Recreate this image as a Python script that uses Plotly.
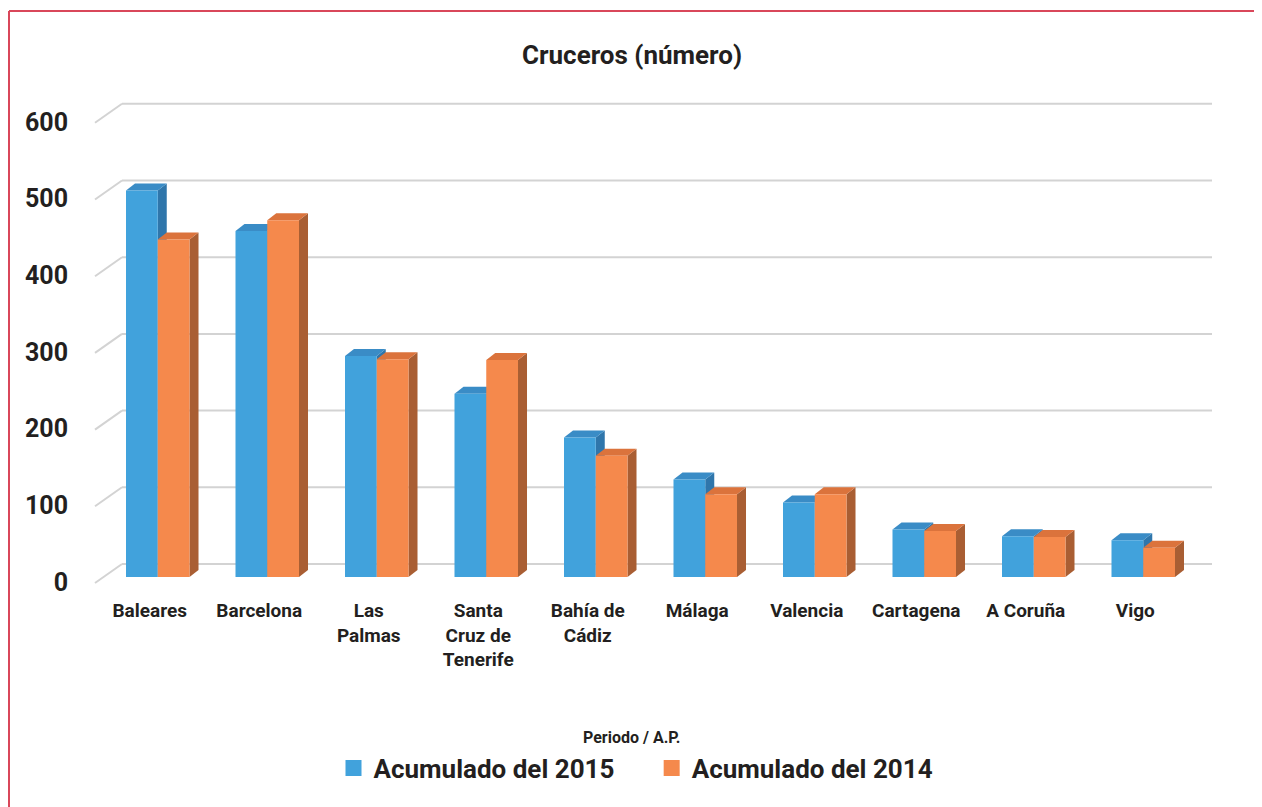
import plotly.graph_objects as go

# ---------------- data ----------------
categories = ["Baleares", "Barcelona", "Las<br>Palmas", "Santa<br>Cruz de<br>Tenerife",
              "Bahía de<br>Cádiz", "Málaga", "Valencia", "Cartagena", "A Coruña", "Vigo"]
acum_2015 = [504, 451, 288, 239, 182, 127, 97, 62, 53, 48]
acum_2014 = [440, 465, 284, 283, 158, 108, 108, 60, 52, 38]
series_names = ["Acumulado del 2015", "Acumulado del 2014"]
y_ticks = [0, 100, 200, 300, 400, 500, 600]

# ---------------- style / layout constants ----------------
OFF = 8                          # page body margin in the browser
W, H = 1262 - OFF, 807 - OFF
ML, MT = 103 - OFF, 95 - OFF
PW, PH = 1095, 482
MR, MB = W - ML - PW, H - MT - PH
PXU = 0.767                      # pixels per unit on y
YMAX = PH / PXU
XMIN, XMAX = -0.5, len(categories) - 0.5
PXX = PW / (XMAX - XMIN)         # pixels per category
BW = 0.29                        # bar width (category units)
DX_PX, DY_PX = 9, 7              # 3D depth offsets in pixels
dx = DX_PX / PXX
dy = DY_PX / PXU

FONT = "Roboto, 'Liberation Sans', Arial, sans-serif"
TXT = "#231F20"
BLUE = dict(front="#41A2DC", top="#3A8CC6", side="#2F76AB")
ORANGE = dict(front="#F5894C", top="#DB733C", side="#A95E33")
GRID = "#D3D3D3"
RED = "#D9475A"

x_idx = list(range(len(categories)))

fig = go.Figure()
fig.add_trace(go.Bar(x=x_idx, y=acum_2015, width=BW, offset=-BW, name=series_names[0],
                     marker=dict(color=BLUE["front"], line=dict(width=0)), showlegend=False))
fig.add_trace(go.Bar(x=x_idx, y=acum_2014, width=BW, offset=0, name=series_names[1],
                     marker=dict(color=ORANGE["front"], line=dict(width=0)), showlegend=False))
# legend-only entries (bigger square swatches)
pads = ["&nbsp;" * 5, ""]
for nm, col, pad in zip(series_names, [BLUE["front"], ORANGE["front"]], pads):
    fig.add_trace(go.Scatter(x=[None], y=[None], mode="markers", name=f"<b>{nm}</b>{pad}",
                             marker=dict(symbol="square", size=16, color=col, line=dict(width=0))))

shapes = []

def px2paper_x(ref_px):
    return (ref_px - OFF - ML) / PW

def py2paper_y(ref_py):
    return (MT + PH - (ref_py - OFF)) / PH

def val2paper_y(v, off_px=0.0):
    return (v * PXU + off_px) / PH

# back-wall gridlines with diagonal floor stubs
FRONT_PX, BACK_PX, END_PX = 95, 122, 1212
for t in y_ticks:
    yf = val2paper_y(t, -6)
    yb = val2paper_y(t, 13)
    shapes.append(dict(type="line", xref="paper", yref="paper",
                       x0=px2paper_x(FRONT_PX), y0=yf, x1=px2paper_x(BACK_PX), y1=yb,
                       line=dict(color=GRID, width=2), layer="below"))
    shapes.append(dict(type="line", xref="paper", yref="paper",
                       x0=px2paper_x(BACK_PX), y0=yb, x1=px2paper_x(END_PX), y1=yb,
                       line=dict(color=GRID, width=2), layer="below"))

def poly(pts):
    return "M " + " L ".join(f"{a},{b}" for a, b in pts) + " Z"

# 3D faces for each bar
for vals, off, col in [(acum_2015, -BW, BLUE), (acum_2014, 0.0, ORANGE)]:
    for i, v in zip(x_idx, vals):
        xl = i + off
        xr = xl + BW
        side = poly([(xr, 0), (xr, v), (xr + dx, v + dy), (xr + dx, dy)])
        top = poly([(xl, v), (xr, v), (xr + dx, v + dy), (xl + dx, v + dy)])
        shapes.append(dict(type="path", xref="x", yref="y", path=side,
                           fillcolor=col["side"], line=dict(width=0), layer="between"))
        shapes.append(dict(type="path", xref="x", yref="y", path=top,
                           fillcolor=col["top"], line=dict(width=0), layer="between"))

# red frame (left and top edges)
shapes.append(dict(type="line", xref="paper", yref="paper",
                   x0=px2paper_x(9), y0=py2paper_y(11), x1=px2paper_x(9), y1=py2paper_y(820),
                   line=dict(color=RED, width=2)))
shapes.append(dict(type="line", xref="paper", yref="paper",
                   x0=px2paper_x(9), y0=py2paper_y(11), x1=px2paper_x(1275), y1=py2paper_y(11),
                   line=dict(color=RED, width=2)))

fig.update_layout(
    width=W, height=H,
    margin=dict(l=ML, r=MR, t=MT, b=MB, autoexpand=False),
    paper_bgcolor="white", plot_bgcolor="rgba(0,0,0,0)",
    font=dict(family=FONT, color=TXT),
    title=dict(text="<b>Cruceros (número)</b>", x=(632 - OFF) / W, xref="container", xanchor="center",
               y=1 - (55 - OFF) / H, yref="container", yanchor="middle",
               font=dict(size=26, family=FONT, color=TXT)),
    xaxis=dict(range=[XMIN, XMAX], tickvals=x_idx, ticktext=[f"<b>{c}</b>" for c in categories],
               showgrid=False, zeroline=False, showline=False, ticks="",
               tickfont=dict(size=19, family=FONT, color=TXT),
               ticklabelshift=-8, ticklabelstandoff=20, fixedrange=True),
    yaxis=dict(range=[0, YMAX], tickvals=y_ticks, ticktext=[f"<b>{t}</b>" for t in y_ticks],
               showgrid=False, zeroline=False, showline=False, ticks="",
               tickfont=dict(size=25, family=FONT, color=TXT),
               ticklabelshift=5, ticklabelstandoff=34, fixedrange=True),
    barmode="overlay",
    shapes=shapes,
    showlegend=True,
    legend=dict(orientation="h", xref="container", x=(636 - OFF) / W, xanchor="center",
                yref="container", y=1 - (768 - OFF) / H, yanchor="middle",
                font=dict(size=26, family=FONT, color=TXT), itemwidth=30,
                bgcolor="rgba(0,0,0,0)"),
    annotations=[dict(text="<b>Periodo / A.P.</b>", xref="paper", yref="paper",
                      x=px2paper_x(631), y=py2paper_y(737), showarrow=False,
                      xanchor="center", yanchor="middle",
                      font=dict(size=16, family=FONT, color=TXT))],
)

fig.write_html("out.html")
